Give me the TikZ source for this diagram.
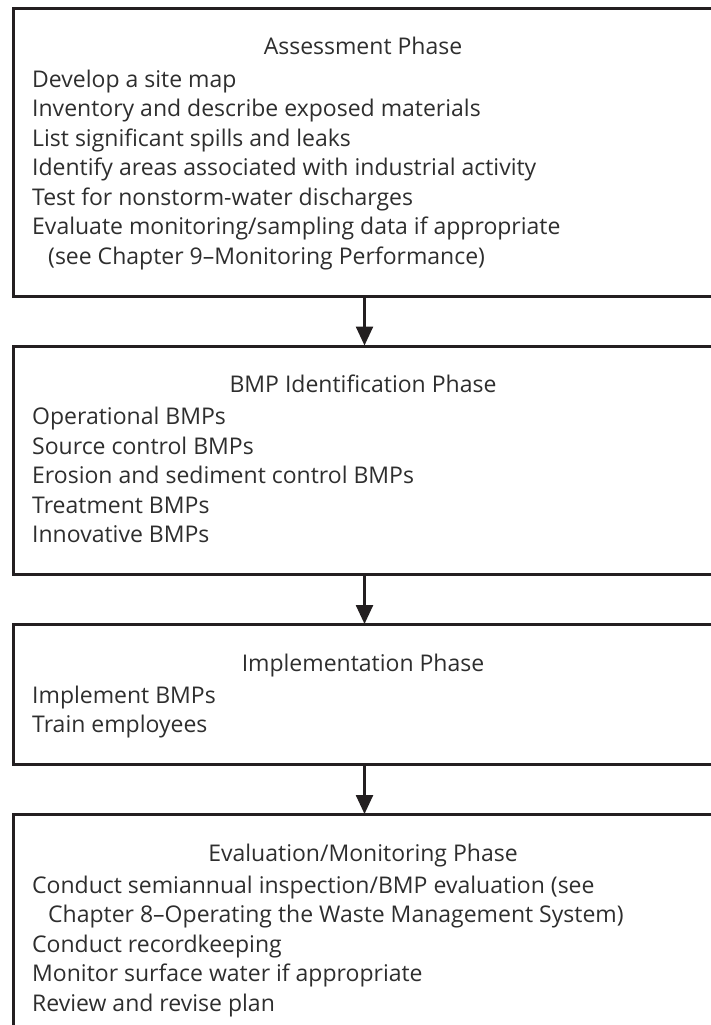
\documentclass[tikz,border=0pt]{standalone}
\usepackage{fontspec}
\setmainfont{Open Sans}
\usetikzlibrary{arrows.meta}
\definecolor{linecol}{HTML}{231F20}
\definecolor{textcol}{HTML}{2E2E2E}
\tikzset{
  phasebox/.style={draw=linecol, line width=3pt, anchor=north west, minimum width=702pt, inner sep=0pt},
  titletext/.style={anchor=base, inner sep=0pt, text=textcol, font=\fontsize{23}{27}\selectfont},
  bodytext/.style={anchor=base west, inner sep=0pt, text=textcol, font=\fontsize{23}{27}\selectfont},
  flow/.style={draw=linecol, line width=2.5pt, -{Triangle[width=17pt,length=19pt]}, shorten >=-1pt}
}
\begin{document}
\begin{tikzpicture}[x=1pt,y=-1pt]
\useasboundingbox (0,0) rectangle (711,1025);
\clip (0,0) rectangle (711,1025);
% box 1
\node[phasebox, minimum height=287pt] (b1) at (12,7.5) {};
\node[titletext] (t1) at (363,55) {Assessment Phase};
\foreach \t [count=\i] in {{Develop a site map},{Inventory and describe exposed materials},{List significant spills and leaks},{Identify areas associated with industrial activity},{Test for nonstorm-water discharges},{Evaluate monitoring/sampling data if appropriate},{\hspace{16pt}(see Chapter 9--Monitoring Performance)}}
  \node[bodytext] (a\i) at (32,{87+29.5*(\i-1)}) {\t};
% box 2
\node[phasebox, minimum height=228pt] (b2) at (12,344.5) {};
\node[titletext] (t2) at (363,392.5) {BMP Identification Phase};
\foreach \t [count=\i] in {{Operational BMPs},{Source control BMPs},{Erosion and sediment control BMPs},{Treatment BMPs},{Innovative BMPs}}
  \node[bodytext] (c\i) at (32,{424.5+29.5*(\i-1)}) {\t};
% box 3
\node[phasebox, minimum height=139.5pt] (b3) at (12,623) {};
\node[titletext] (t3) at (363,671) {Implementation Phase};
\foreach \t [count=\i] in {{Implement BMPs},{Train employees}}
  \node[bodytext] (d\i) at (32,{703+29.5*(\i-1)}) {\t};
% box 4
\node[phasebox, minimum height=300pt] (b4) at (12,813) {};
\node[titletext] (t4) at (363,861) {Evaluation/Monitoring Phase};
\foreach \t [count=\i] in {{Conduct semiannual inspection/BMP evaluation (see},{\hspace{16pt}Chapter 8--Operating the Waste Management System)},{Conduct recordkeeping},{Monitor surface water if appropriate},{Review and revise plan}}
  \node[bodytext] (e\i) at (32,{893+29.5*(\i-1)}) {\t};
% arrows
\draw[flow] (b1.south) -- (b2.north);
\draw[flow] (b2.south) -- (b3.north);
\draw[flow] (b3.south) -- (b4.north);
\end{tikzpicture}
\end{document}
